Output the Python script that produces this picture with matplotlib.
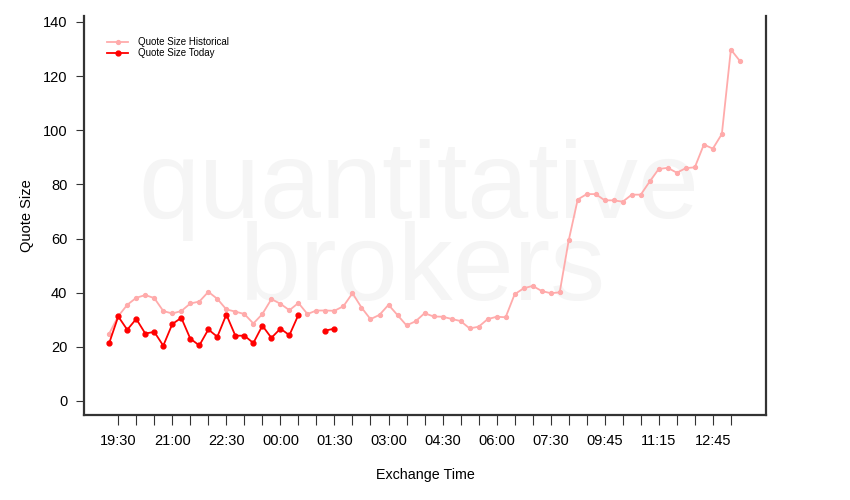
import matplotlib
matplotlib.use("Agg")
import matplotlib.pyplot as plt
import numpy as np

plt.rcParams['font.family'] = ['Liberation Sans Narrow', 'Liberation Sans', 'DejaVu Sans']

# quote size, historical profile (15 min buckets)
historical = [24.9, 31.3, 35.5, 38.1, 39.1, 38.0, 33.2, 32.3, 33.2, 36.0,
              36.7, 40.3, 37.7, 33.8, 33.0, 32.1, 28.6, 32.1, 37.6, 35.9,
              33.5, 36.2, 32.1, 33.4, 33.4, 33.3, 35.0, 39.8, 34.5, 30.2,
              31.8, 35.5, 31.7, 27.9, 29.4, 32.4, 31.2, 31.1, 30.3, 29.5,
              26.8, 27.4, 30.2, 31.1, 30.9, 39.4, 41.6, 42.5, 40.6, 39.8,
              40.1, 59.3, 74.4, 76.4, 76.4, 74.1, 74.1, 73.6, 76.2, 76.2,
              81.1, 85.7, 86.1, 84.3, 86.0, 86.3, 94.7, 93.2, 98.6, 129.8,
              125.6]

# today so far (nan = no data)
nan = np.nan
today = [21.4, 31.2, 26.3, 30.3, 24.9, 25.5, 20.4, 28.4, 30.7, 23.0,
         20.5, 26.4, 23.7, 31.9, 24.1, 24.1, 21.4, 27.8, 23.3, 26.7,
         24.3, 31.8, nan, nan, 26.0, 26.7]

tick_labels = ["19:30", "21:00", "22:30", "00:00", "01:30", "03:00",
               "04:30", "06:00", "07:30", "09:45", "11:15", "12:45"]

fig = plt.figure(figsize=(8.5, 5), dpi=100)
ax = fig.add_axes([84 / 850, 85 / 500, 682 / 850, 399 / 500])

# watermark
wm = dict(ha="center", va="baseline", fontsize=79, color="#f5f5f5",
          family=["Liberation Sans", "DejaVu Sans"], zorder=0)
ax.text(34.4, 67.4, "quantitative", **wm)
ax.text(34.8, 37.2, "brokers", **wm)

xh = np.arange(len(historical))
xt = np.arange(len(today))
ax.plot(xh, historical, color="#ffabab", lw=1.3, marker="o", ms=2.8,
        label="Quote Size Historical", zorder=2)
ax.plot(xt, today, color="#ff0000", lw=1.3, marker="o", ms=3.5,
        label="Quote Size Today", zorder=3)

ax.set_xlim(-2.8, 72.9)
ax.set_ylim(-5.2, 142.2)

xticks = np.arange(1, len(historical), 2)
ax.set_xticks(xticks)
ax.set_xticklabels([tick_labels[i // 3] if i % 3 == 0 else ""
                    for i in range(len(xticks))])
ax.set_yticks(np.arange(0, 141, 20))

ax.tick_params(axis="x", direction="out", length=7, width=0.8,
               color="#333333", pad=7, labelsize=10.5)
ax.tick_params(axis="y", direction="out", length=6, width=0.8,
               color="#333333", pad=6, labelsize=10.5)

ax.spines["top"].set_visible(False)
for s in ["left", "right", "bottom"]:
    ax.spines[s].set_color("#333333")
    ax.spines[s].set_linewidth(1.6)

ax.set_xlabel("Exchange Time", fontsize=10.3, labelpad=14)
ax.set_ylabel("Quote Size", fontsize=10.5, labelpad=6)

ax.legend(loc="upper left", bbox_to_anchor=(0.025, 0.962), frameon=False,
          fontsize=7, handlelength=2.2, handletextpad=1.0, labelspacing=0.1,
          borderaxespad=0.2)

fig.savefig("out.png", dpi=100)
